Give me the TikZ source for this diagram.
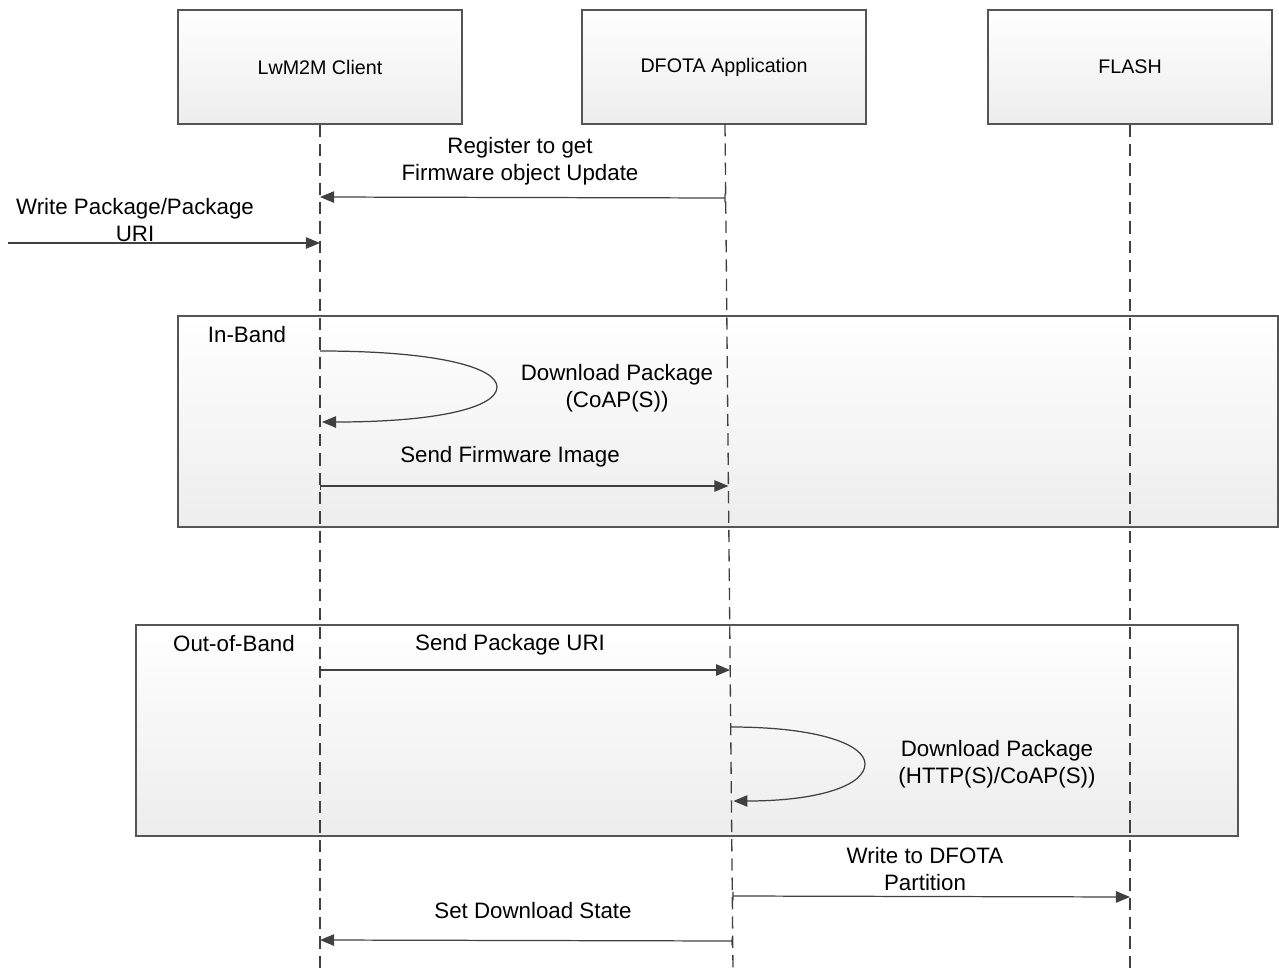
\documentclass[tikz,border=0pt]{standalone}
\usepackage{fontspec}
\setmainfont{Liberation Sans}
\usetikzlibrary{arrows.meta,calc}
\definecolor{edge}{HTML}{555555}
\definecolor{wire}{HTML}{404040}
\definecolor{shade}{HTML}{EDEDED}
\tikzset{
  actor/.style={draw=edge,line width=0.8pt,top color=white,bottom color=shade,minimum width=5.68cm,minimum height=2.28cm,font=\fontsize{11.2}{14}\selectfont},
  frag/.style={draw=edge,line width=0.8pt,top color=white,bottom color=shade},
  life/.style={draw=wire,line width=0.75pt,dash pattern=on 7pt off 4pt},
  msg/.style={draw=wire,line width=0.7pt,{Bar[width=5pt,line width=0.7pt]}-{Triangle[length=8pt,width=6.5pt]}},
  loopmsg/.style={draw=wire,line width=0.7pt,-{Triangle[length=8pt,width=6.5pt]}},
  txt/.style={align=center,inner sep=0pt,font=\fontsize{12.7}{15.6}\selectfont}
}
\begin{document}
\begin{tikzpicture}[x=0.02cm,y=-0.02cm]
	\useasboundingbox (0,0) rectangle (1279,970);
	% fragments
	\draw[frag] (178,316) rectangle (1278,527);
	\draw[frag] (136,625) rectangle (1238,836);
	\node[txt](ib) at (247,335){In-Band};
	\node[txt](ob) at (234,644){Out-of-Band};
	% participants
	\node[actor](client) at (320,67){LwM2M Client};
	\node[actor](dfota) at (724,67){DFOTA Application};
	\node[actor](flash) at (1130,67){FLASH};
	\coordinate (ce) at (320,970);
	\coordinate (da) at (725,124);
	\coordinate (de) at (733,970);
	\coordinate (fe) at (1130,970);
	\draw[life] (client.south) -- (ce);
	\draw[life] (da) -- (de);
	\draw[life] (flash.south) -- (fe);
	% points on the lifelines
	\coordinate (c1) at (320,197);
	\coordinate (d1) at ($(da)!0.086!(de)$);
	\coordinate (w0) at (8,243);
	\coordinate (c2) at (320,243);
	\coordinate (c3) at (320,351);
	\coordinate (c4) at (322,422);
	\coordinate (c5) at (320,486);
	\coordinate (d5) at ($(da)!0.428!(de)$);
	\coordinate (c6) at (320,670);
	\coordinate (d6) at ($(da)!0.645!(de)$);
	\coordinate (d7) at ($(da)!0.713!(de)$);
	\coordinate (d8) at ($(da)!0.800!(de)$);
	\coordinate (d9) at ($(da)!0.912!(de)$);
	\coordinate (f9) at (1130,897);
	\coordinate (d10) at ($(da)!0.965!(de)$);
	\coordinate (c10) at (320,940);
	% messages
	\draw[msg] (d1|-0,198) -- (c1);
	\node[txt](reg) at (520,161){Register to get\\Firmware object Update};
	\draw[loopmsg] (w0) -- (c2);
	\node[txt](wp) at (135,220){Write Package/Package\\URI};
	\draw[loopmsg] (c3) .. controls (440,351) and (497,368) .. (497,387) .. controls (497,407) and (440,422) .. (c4);
	\node[txt](dl1) at (617,388){Download Package\\(CoAP(S))};
	\draw[msg] (c5) -- (d5|-0,486);
	\node[txt](sfi) at (510,457){Send Firmware Image};
	\draw[msg] (c6) -- (d6|-0,670);
	\node[txt](spu) at (510,645){Send Package URI};
	\draw[loopmsg] (d7|-0,727) .. controls (820,727) and (865,745) .. (865,764) .. controls (865,785) and (820,801) .. ($(d8|-0,801)+(2,0)$);
	\node[txt](dl2) at (997,764){Download Package\\(HTTP(S)/CoAP(S))};
	\draw[msg] (d9|-0,896) -- (f9);
	\node[txt](wdp) at (925,869){Write to DFOTA\\Partition};
	\draw[msg] (d10|-0,941) -- (c10);
	\node[txt](sds) at (533,911){Set Download State};
\end{tikzpicture}
\end{document}
